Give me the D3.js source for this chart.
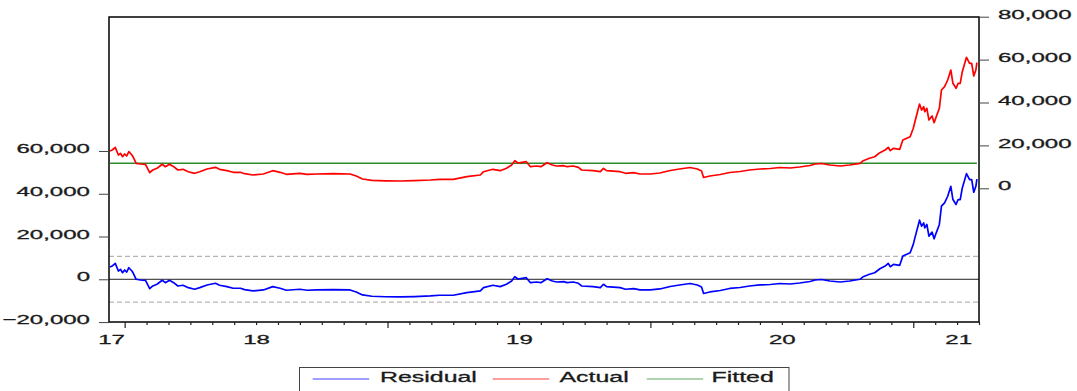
<!DOCTYPE html>
<html>
<head>
<meta charset="utf-8">
<script src="https://cdn.jsdelivr.net/npm/d3@7"></script>
<style>
  html, body { margin: 0; padding: 0; background: #ffffff; }
  svg { display: block; }
  text { font-family: "Liberation Sans", Arial, sans-serif; fill: #1a1a1a; stroke: #1a1a1a; stroke-width: 0.3px; }
</style>
</head>
<body>
<script>
// ---------------- DATA ----------------
// Observation index (daily observations, EViews-style equally spaced) and Actual values (right axis)
const actualObs = [1,3,6,9,11,13,15,17,19,22,23,26,30,35,39,42,46,51,54,58,62,66,71,76,82,87,94,102,106,113,119,126,130,138,148,157,164,170,183,190,199,215,231,237,243,252,265,279,293,308,317,330,343,356,359,368,375,381,386,389,392,396,400,404,410,414,420,425,429,436,439,445,450,453,464,471,474,477,490,495,503,509,519,528,538,547,557,564,568,570,576,586,595,605,614,624,634,643,653,662,672,677,683,691,701,710,720,723,729,734,739,744,747,749,752,758,761,768,771,773,777,779,781,782,784,786,789,791,793,796,798,801,804,807,809,812,814,816,818,822,825,827,829,831,832];
const actualValues = [17390,17860,19110,15520,16320,14730,15990,15060,17060,15520,14730,11660,11330,11190,7270,8530,9320,11190,10070,11190,10070,8530,8860,7740,6990,7740,9000,9790,8860,8210,7460,7460,6810,6200,6670,8210,7460,6530,6990,6530,6670,6810,6670,5730,4340,3730,3500,3400,3590,3870,4200,4200,5410,6200,7740,8860,8210,9320,10860,12870,11790,12120,12400,10070,10400,10070,11930,10860,10400,10540,10070,10400,9790,8530,8210,7740,9320,8210,7740,6990,7270,6670,6670,7130,8300,9000,9700,9000,8070,5030,5730,6430,7370,7830,8530,9000,9230,9700,9460,9930,10630,11330,11560,10860,10400,10860,11660,12870,13990,14730,16600,17860,19110,17530,18650,18180,22520,24060,27970,31840,39300,36500,38040,35710,37300,31840,33710,30580,33380,37300,45830,47370,50490,55150,48950,46620,48950,48950,54360,61070,58280,58280,52350,55150,58550];
// Fitted value (constant, right axis) and regression standard error (residual bands, left axis)
const fittedValue = 11655;
const residualSE = 10700;

const seriesNames = ["Residual", "Actual", "Fitted"];
const seriesColors = ["#0000ff", "#ff0000", "#2a8c2a"];

const leftTicks = [-20000, 0, 20000, 40000, 60000];
const rightTicks = [0, 20000, 40000, 60000, 80000];
const yearLabels = ["17", "18", "19", "20", "21"];
const yearLabelObs = [2, 141, 393, 645, 814];
const totalObs = 834;
const tickStart = 15, tickStep = 21, majorEvery = 12;

// ---------------- CHART ----------------
const W = 1077, H = 391;
const plot = { left: 109, right: 979, top: 17, bottom: 322 };
const SX = 1.85; // horizontal stretch of axis text (as in the exported graph)

const svg = d3.select("body").append("svg").attr("width", W).attr("height", H);

const x = d3.scaleLinear().domain([0, totalObs]).range([plot.left, plot.right]);
const yL = d3.scaleLinear().domain([-19970, 122650]).range([plot.bottom, plot.top]);
const yR = d3.scaleLinear().domain([-62330, 79860]).range([plot.bottom, plot.top]);

const actual = actualObs.map((o, i) => ({ obs: o, v: actualValues[i] }));
const fitted = actualObs.map(o => ({ obs: o, v: fittedValue }));
const residual = actual.map((d, i) => ({ obs: d.obs, v: d.v - fitted[i].v }));

// Residual reference lines (left axis)
const refG = svg.append("g");
[residualSE, -residualSE].forEach(v => {
  refG.append("line")
    .attr("x1", plot.left).attr("x2", plot.right)
    .attr("y1", yL(v)).attr("y2", yL(v))
    .attr("stroke", "#b4b4b4").attr("stroke-width", 1.2)
    .attr("stroke-dasharray", "5,3");
});
refG.append("line")
  .attr("x1", plot.left).attr("x2", plot.right)
  .attr("y1", yL(0)).attr("y2", yL(0))
  .attr("stroke", "#222").attr("stroke-width", 1);

// Series lines
const lineL = d3.line().x(d => x(d.obs)).y(d => yL(d.v));
const lineR = d3.line().x(d => x(d.obs)).y(d => yR(d.v));

svg.append("path").datum(fitted).attr("d", lineR)
  .attr("fill", "none").attr("stroke", seriesColors[2]).attr("stroke-width", 1.4);
svg.append("path").datum(actual).attr("d", lineR)
  .attr("fill", "none").attr("stroke", seriesColors[1]).attr("stroke-width", 1.7)
  .attr("stroke-linejoin", "round");
svg.append("path").datum(residual).attr("d", lineL)
  .attr("fill", "none").attr("stroke", seriesColors[0]).attr("stroke-width", 1.7)
  .attr("stroke-linejoin", "round");

// Frame
svg.append("rect")
  .attr("x", plot.left).attr("y", plot.top)
  .attr("width", plot.right - plot.left).attr("height", plot.bottom - plot.top)
  .attr("fill", "none").attr("stroke", "#000").attr("stroke-width", 1.5);

const fmt = d3.format(",");

// Left axis
const gL = svg.append("g").attr("transform", `translate(${plot.left},0)`)
  .call(d3.axisLeft(yL).tickValues(leftTicks).tickSize(10).tickSizeOuter(0).tickFormat(fmt));
gL.select(".domain").remove();
gL.selectAll(".tick line").attr("stroke", "#444");
gL.selectAll(".tick text")
  .attr("x", null).attr("dy", null)
  .attr("transform", "translate(-19,1.6) scale(" + SX + ",1)")
  .attr("text-anchor", "end").style("font-size", "13px").attr("fill", "#1a1a1a");

// Right axis
const gR = svg.append("g").attr("transform", `translate(${plot.right},0)`)
  .call(d3.axisRight(yR).tickValues(rightTicks).tickSize(10).tickSizeOuter(0).tickFormat(fmt));
gR.select(".domain").remove();
gR.selectAll(".tick line").attr("stroke", "#444");
gR.selectAll(".tick text")
  .attr("x", null).attr("dy", null)
  .attr("transform", "translate(19,1.6) scale(" + SX + ",1)")
  .attr("text-anchor", "start").style("font-size", "13px").attr("fill", "#1a1a1a");

// Bottom axis ticks
const tickObs = d3.range(tickStart, totalObs + 1, tickStep);
const gB = svg.append("g").attr("transform", `translate(0,${plot.bottom})`)
  .call(d3.axisBottom(x).tickValues(tickObs).tickSize(3).tickSizeOuter(0).tickFormat(""));
gB.select(".domain").remove();
gB.selectAll(".tick line")
  .attr("stroke", "#222").attr("stroke-width", 1.2)
  .attr("y2", (d, i) => (i % majorEvery === 0 ? 6 : 3));

// Bottom axis year labels
const gB2 = svg.append("g").attr("transform", `translate(0,${plot.bottom})`)
  .call(d3.axisBottom(x).tickValues(yearLabelObs).tickSize(0).tickFormat((d, i) => yearLabels[i]));
gB2.select(".domain").remove();
gB2.selectAll(".tick line").remove();
gB2.selectAll(".tick text")
  .attr("y", null).attr("dy", null)
  .attr("transform", "translate(0,21.5) scale(" + SX + ",1)")
  .attr("text-anchor", "middle").style("font-size", "13px").attr("fill", "#1a1a1a");

// Legend
const legend = svg.append("g");
legend.append("rect")
  .attr("x", 299.5).attr("y", 367.5).attr("width", 489.5).attr("height", 30)
  .attr("fill", "#fff").attr("stroke", "#444").attr("stroke-width", 1);
const legItems = [
  { lx: 312.7, tx: 380 },
  { lx: 492.7, tx: 559.5 },
  { lx: 646.7, tx: 711.5 }
];
legItems.forEach((it, i) => {
  legend.append("line")
    .attr("x1", it.lx).attr("x2", it.lx + 56.5)
    .attr("y1", 379).attr("y2", 379)
    .attr("stroke", seriesColors[i]).attr("stroke-width", 1).attr("stroke-opacity", 0.75);
  legend.append("text")
    .attr("transform", `translate(${it.tx},382.3) scale(1.66,1)`)
    .style("font-size", "15px").attr("fill", "#1a1a1a")
    .text(seriesNames[i]);
});
</script>
</body>
</html>
